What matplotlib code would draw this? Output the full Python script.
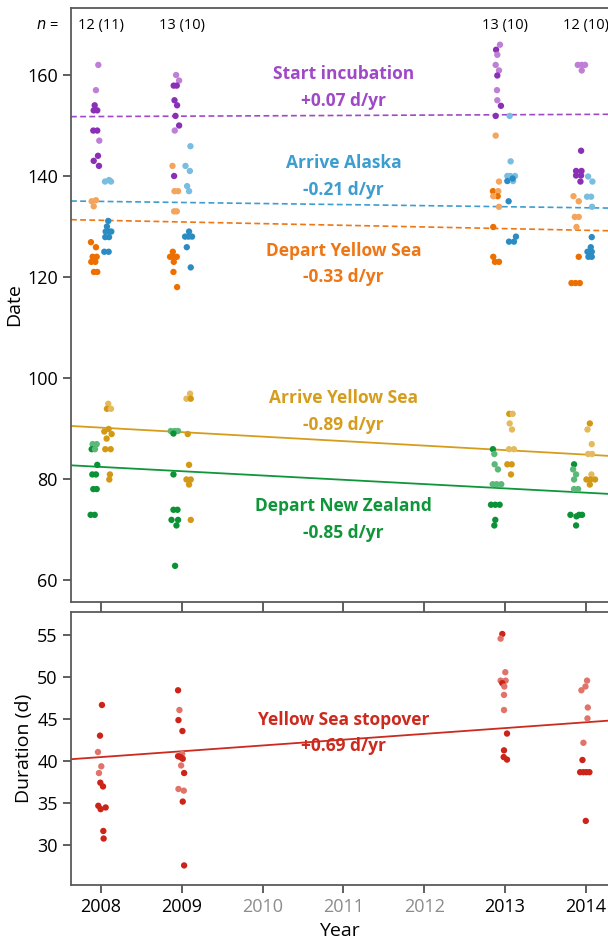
import matplotlib
matplotlib.use('Agg')
import matplotlib.pyplot as plt

plt.rcParams['font.family'] = ['Open Sans', 'DejaVu Sans']

# DATA  (year, day of year, jitter in years, light shade 0/1)
YEARS = [2008, 2009, 2010, 2011, 2012, 2013, 2014]
STUDY_YEARS = [2008, 2009, 2013, 2014]
N_LABELS = ["12 (11)", "13 (10)", "13 (10)", "12 (10)"]

incubation = [
    (2008, 162.0, -0.033, 1), (2008, 157.0, -0.062, 1), (2008, 154.0, -0.078, 0),
    (2008, 153.0, -0.090, 0), (2008, 153.0, -0.046, 0), (2008, 149.0, -0.095, 0),
    (2008, 149.0, -0.046, 0), (2008, 147.0, -0.021, 1), (2008, 144.0, -0.037, 0),
    (2008, 143.0, -0.090, 0), (2008, 142.0, -0.025, 0),
    (2009, 160.0, -0.070, 1), (2009, 158.9, -0.033, 1), (2009, 157.9, -0.100, 0),
    (2009, 157.9, -0.062, 0), (2009, 155.0, -0.090, 0), (2009, 154.0, -0.058, 0),
    (2009, 151.9, -0.078, 0), (2009, 150.0, -0.033, 0), (2009, 149.0, -0.087, 1),
    (2009, 140.0, -0.095, 0),
    (2013, 166.0, -0.062, 1), (2013, 165.0, -0.110, 0), (2013, 164.0, -0.095, 1),
    (2013, 162.0, -0.115, 1), (2013, 160.9, -0.074, 1), (2013, 159.9, -0.095, 0),
    (2013, 157.0, -0.099, 1), (2013, 155.0, -0.095, 1), (2013, 153.9, -0.050, 0),
    (2013, 151.9, -0.115, 0),
    (2014, 162.0, -0.099, 1), (2014, 162.0, -0.050, 1), (2014, 162.0, -0.009, 1),
    (2014, 160.9, -0.050, 1), (2014, 145.0, -0.058, 0), (2014, 141.0, -0.120, 0),
    (2014, 141.0, -0.053, 0), (2014, 140.1, -0.120, 0), (2014, 140.1, -0.058, 0),
    (2014, 138.9, -0.066, 0),
]

alaska = [
    (2008, 138.9, 0.050, 1), (2008, 139.2, 0.100, 1), (2008, 138.9, 0.124, 1),
    (2008, 131.1, 0.090, 0), (2008, 130.0, 0.074, 0), (2008, 129.0, 0.058, 0),
    (2008, 129.0, 0.100, 0), (2008, 129.0, 0.128, 0), (2008, 127.9, 0.053, 0),
    (2008, 127.9, 0.100, 0), (2008, 125.0, 0.041, 0), (2008, 125.0, 0.095, 0),
    (2009, 145.9, 0.107, 1), (2009, 142.0, 0.046, 1), (2009, 141.0, 0.100, 1),
    (2009, 138.0, 0.066, 1), (2009, 137.0, 0.090, 1), (2009, 129.0, 0.090, 0),
    (2009, 128.0, 0.041, 0), (2009, 128.0, 0.083, 0), (2009, 128.0, 0.127, 0),
    (2009, 125.9, 0.062, 0), (2009, 121.9, 0.111, 0),
    (2013, 151.9, 0.058, 1), (2013, 142.9, 0.070, 1), (2013, 140.0, 0.029, 1),
    (2013, 140.0, 0.066, 1), (2013, 140.0, 0.124, 1), (2013, 139.0, 0.029, 0),
    (2013, 139.0, 0.100, 1), (2013, 139.5, 0.095, 0), (2013, 135.0, 0.045, 0),
    (2013, 128.0, 0.136, 0), (2013, 127.0, 0.050, 0), (2013, 127.0, 0.111, 0),
    (2014, 139.9, 0.029, 1), (2014, 138.9, 0.082, 1), (2014, 135.9, 0.016, 1),
    (2014, 135.9, 0.066, 1), (2014, 133.9, 0.078, 1), (2014, 127.9, 0.074, 0),
    (2014, 125.9, 0.062, 0), (2014, 125.0, 0.021, 0), (2014, 125.0, 0.074, 0),
    (2014, 124.0, 0.033, 0), (2014, 124.0, 0.074, 0),
]

depart_ys = [
    (2008, 135.0, -0.115, 1), (2008, 135.2, -0.062, 1), (2008, 134.0, -0.090, 1),
    (2008, 126.9, -0.124, 0), (2008, 125.9, -0.062, 0), (2008, 124.0, -0.103, 0),
    (2008, 124.0, -0.053, 0), (2008, 123.0, -0.120, 0), (2008, 123.0, -0.070, 0),
    (2008, 121.0, -0.087, 0), (2008, 121.0, -0.046, 0),
    (2009, 142.0, -0.115, 1), (2009, 137.0, -0.090, 1), (2009, 137.0, -0.046, 1),
    (2009, 133.0, -0.095, 1), (2009, 133.0, -0.062, 1), (2009, 125.0, -0.111, 0),
    (2009, 124.0, -0.145, 0), (2009, 124.0, -0.108, 0), (2009, 124.0, -0.062, 0),
    (2009, 123.0, -0.099, 0), (2009, 121.0, -0.103, 0), (2009, 118.0, -0.058, 0),
    (2013, 148.0, -0.115, 1), (2013, 138.9, -0.074, 1), (2013, 137.0, -0.149, 0),
    (2013, 137.0, -0.083, 1), (2013, 136.0, -0.090, 0), (2013, 136.0, -0.145, 1),
    (2013, 133.9, -0.074, 1), (2013, 129.9, -0.145, 0), (2013, 124.0, -0.145, 0),
    (2013, 123.0, -0.124, 0), (2013, 123.0, -0.074, 0),
    (2014, 136.0, -0.152, 1), (2014, 135.0, -0.087, 1), (2014, 131.9, -0.136, 1),
    (2014, 131.9, -0.087, 1), (2014, 129.9, -0.115, 1), (2014, 124.0, -0.087, 0),
    (2014, 118.8, -0.177, 0), (2014, 118.8, -0.127, 0), (2014, 118.8, -0.074, 0),
]

arrive_ys = [
    (2008, 94.9, 0.090, 1), (2008, 93.9, 0.074, 0), (2008, 93.9, 0.124, 1),
    (2008, 89.9, 0.095, 0), (2008, 89.4, 0.041, 0), (2008, 88.9, 0.132, 0),
    (2008, 88.0, 0.070, 0), (2008, 85.9, 0.053, 0), (2008, 85.9, 0.120, 0),
    (2008, 80.9, 0.111, 0), (2008, 79.9, 0.103, 0),
    (2009, 96.9, 0.103, 1), (2009, 95.9, 0.058, 1), (2009, 95.9, 0.111, 0),
    (2009, 88.9, 0.074, 0), (2009, 82.8, 0.090, 0), (2009, 79.9, 0.058, 0),
    (2009, 79.9, 0.111, 0), (2009, 78.9, 0.090, 0), (2009, 71.9, 0.111, 0),
    (2013, 92.9, 0.053, 0), (2013, 92.9, 0.095, 1), (2013, 91.0, 0.058, 1),
    (2013, 89.8, 0.087, 1), (2013, 85.9, 0.050, 1), (2013, 85.9, 0.111, 1),
    (2013, 82.9, 0.029, 0), (2013, 82.9, 0.083, 0), (2013, 80.9, 0.074, 0),
    (2014, 91.0, 0.050, 0), (2014, 89.8, 0.021, 1), (2014, 86.9, 0.074, 1),
    (2014, 84.95, 0.029, 1), (2014, 84.95, 0.078, 1), (2014, 80.9, 0.070, 1),
    (2014, 79.9, 0.008, 0), (2014, 79.9, 0.058, 0), (2014, 79.9, 0.115, 0),
    (2014, 78.9, 0.050, 0),
]

depart_nz = [
    (2008, 86.9, -0.103, 1), (2008, 86.9, -0.053, 1), (2008, 85.9, -0.115, 0),
    (2008, 85.9, -0.074, 1), (2008, 82.8, -0.046, 0), (2008, 80.9, -0.107, 0),
    (2008, 80.9, -0.062, 0), (2008, 78.0, -0.095, 0), (2008, 78.0, -0.053, 0),
    (2008, 72.9, -0.128, 0), (2008, 72.9, -0.078, 0),
    (2009, 89.5, -0.136, 1), (2009, 89.5, -0.087, 1), (2009, 89.5, -0.046, 1),
    (2009, 89.0, -0.103, 0), (2009, 80.9, -0.103, 0), (2009, 73.9, -0.103, 0),
    (2009, 73.9, -0.053, 0), (2009, 71.9, -0.127, 0), (2009, 71.9, -0.046, 0),
    (2009, 70.8, -0.066, 0), (2009, 62.8, -0.083, 0),
    (2013, 85.9, -0.149, 0), (2013, 84.95, -0.132, 1), (2013, 82.9, -0.128, 1),
    (2013, 81.9, -0.087, 1), (2013, 78.96, -0.152, 1), (2013, 78.96, -0.103, 1),
    (2013, 78.96, -0.046, 1), (2013, 74.9, -0.173, 0), (2013, 74.9, -0.120, 0),
    (2013, 74.9, -0.066, 0), (2013, 71.9, -0.120, 0), (2013, 70.8, -0.132, 0),
    (2014, 82.9, -0.145, 0), (2014, 81.9, -0.157, 1), (2014, 80.9, -0.120, 1),
    (2014, 79.9, -0.145, 1), (2014, 78.0, -0.145, 1), (2014, 78.0, -0.095, 1),
    (2014, 72.9, -0.190, 0), (2014, 72.6, -0.115, 0), (2014, 72.9, -0.083, 0),
    (2014, 72.9, -0.046, 0), (2014, 70.8, -0.120, 0),
]

stopover = [
    (2008, 46.7, 0.012, 0), (2008, 43.05, -0.012, 0), (2008, 41.1, -0.037, 1),
    (2008, 39.4, 0.004, 1), (2008, 38.6, -0.025, 1), (2008, 37.45, -0.008, 0),
    (2008, 37.0, 0.025, 0), (2008, 34.7, -0.033, 0), (2008, 34.3, -0.004, 0),
    (2008, 34.5, 0.058, 0), (2008, 31.7, 0.029, 0), (2008, 30.8, 0.033, 0),
    (2009, 48.45, -0.046, 0), (2009, 46.1, -0.029, 1), (2009, 44.9, -0.041, 0),
    (2009, 43.6, 0.008, 0), (2009, 40.9, 0.004, 1), (2009, 40.6, -0.046, 0),
    (2009, 40.5, -0.016, 0), (2009, 40.3, 0.012, 0), (2009, 39.5, -0.008, 1),
    (2009, 38.6, 0.029, 0), (2009, 36.7, -0.041, 1), (2009, 36.5, 0.025, 1),
    (2009, 35.2, 0.012, 0), (2009, 27.6, 0.029, 0),
    (2013, 55.15, -0.033, 0), (2013, 54.6, -0.054, 1), (2013, 50.6, 0.004, 1),
    (2013, 49.6, -0.054, 1), (2013, 49.6, 0.008, 1), (2013, 49.3, -0.033, 0),
    (2013, 48.9, -0.008, 1), (2013, 47.9, -0.012, 1), (2013, 46.1, -0.012, 1),
    (2013, 43.3, 0.025, 0), (2013, 41.3, -0.012, 0), (2013, 40.5, -0.016, 0),
    (2013, 40.2, 0.025, 0),
    (2014, 49.6, 0.016, 1), (2014, 48.9, -0.004, 1), (2014, 48.45, -0.054, 1),
    (2014, 46.4, 0.025, 1), (2014, 45.1, 0.021, 1), (2014, 42.2, -0.029, 1),
    (2014, 40.15, -0.041, 0), (2014, 38.7, -0.070, 0), (2014, 38.7, -0.029, 0),
    (2014, 38.7, 0.008, 0), (2014, 38.7, 0.045, 0), (2014, 32.9, 0.000, 0),
]

# trend lines: value at 2008 and slope (d/yr)
TREND_AT_2008 = [151.78, 134.97, 131.23, 90.17, 82.39, 40.5]
TREND_SLOPE = [0.07, -0.21, -0.33, -0.89, -0.85, 0.69]

LABELS = ["Start incubation\n+0.07 d/yr", "Arrive Alaska\n-0.21 d/yr",
          "Depart Yellow Sea\n-0.33 d/yr", "Arrive Yellow Sea\n-0.89 d/yr",
          "Depart New Zealand\n-0.85 d/yr", "Yellow Sea stopover\n+0.69 d/yr"]
LABEL_Y = [157.5, 139.9, 122.6, 93.4, 72.0, 43.4]

# dark, light, text
COLORS = [
    ('#8a2fb6', '#bf7fd6', '#a049c6'),
    ('#2b8cc4', '#79bde0', '#3d9dcf'),
    ('#ec6f00', '#f4a45c', '#ee7614'),
    ('#d49914', '#e3bb5e', '#d69d1d'),
    ('#0b9136', '#5bb878', '#10963a'),
    ('#cc2418', '#e0736a', '#cc2a1e'),
]

series = [incubation, alaska, depart_ys, arrive_ys, depart_nz, stopover]

X_LEFT, X_RIGHT = 2007.629, 2014.275

fig = plt.figure(figsize=(6.08, 9.44), dpi=100)
ax1 = fig.add_axes([71/608, 1-602/944, 1-71/608, (602-8)/944])
ax2 = fig.add_axes([71/608, 1-885/944, 1-71/608, (885-612)/944])

axes_for = [ax1, ax1, ax1, ax1, ax1, ax2]

for i, pts in enumerate(series):
    ax = axes_for[i]
    dark, light, txt = COLORS[i]
    xs = [p[0] + p[2] for p in pts]
    ys = [p[1] for p in pts]
    cs = [light if p[3] else dark for p in pts]
    ax.scatter(xs, ys, s=21, c=cs, linewidths=0, zorder=3)

    xl = [X_LEFT, X_RIGHT]
    yl = [TREND_AT_2008[i] + TREND_SLOPE[i] * (x - 2008) for x in xl]
    if i < 3:
        ax.plot(xl, yl, color=txt, lw=1.2, dashes=(3.5, 2), zorder=2)
    else:
        ax.plot(xl, yl, color=txt, lw=1.3, zorder=2)

    ax.text(2011, LABEL_Y[i], LABELS[i], color=txt, fontsize=12.5, fontweight='bold',
            ha='center', va='center', linespacing=1.6, zorder=4)

for ax in (ax1, ax2):
    ax.set_xlim(X_LEFT, X_RIGHT)
    ax.spines['right'].set_visible(False)
    for sp in ('left', 'top', 'bottom'):
        ax.spines[sp].set_color('#5a5a5a')
        ax.spines[sp].set_linewidth(1.3)
    ax.set_xticks(YEARS)
    ax.tick_params(axis='both', direction='out', length=6, width=1.1,
                   color='#333333', labelsize=13)

ax1.set_ylim(55.64, 173.27)
ax1.set_yticks([60, 80, 100, 120, 140, 160])
ax1.tick_params(axis='x', length=7.2, labelbottom=False)
ax1.set_ylabel('Date', fontsize=14, labelpad=3)

ax2.set_ylim(25.27, 57.77)
ax2.set_yticks([30, 35, 40, 45, 50, 55])
ax2.set_xticklabels([str(y) for y in YEARS])
for lab, y in zip(ax2.get_xticklabels(), YEARS):
    if y not in STUDY_YEARS:
        lab.set_color('#8c8c8c')
ax2.set_ylabel('Duration (d)', fontsize=14, labelpad=3)
ax2.set_xlabel('Year', fontsize=14, labelpad=4)

for yr, lab in zip(STUDY_YEARS, N_LABELS):
    ax1.text(yr, 169.9, lab, fontsize=10.5, ha='center', va='center')
ax1.text(2007.47, 169.9, '$n$ =', fontsize=10.5, ha='right', va='center', clip_on=False)

fig.savefig('out.png', dpi=100)
